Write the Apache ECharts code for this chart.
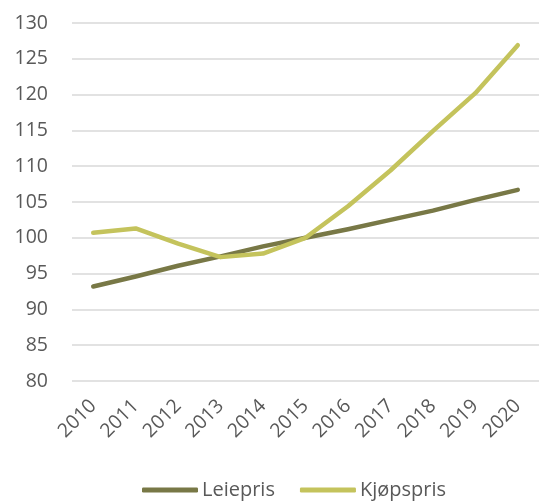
<!DOCTYPE html>
<html>
<head>
<meta charset="utf-8">
<script src="https://cdn.jsdelivr.net/npm/echarts@6/dist/echarts.min.js"></script>
<style>
  html, body { margin: 0; padding: 0; background: #fff; }
  #chart { width: 539px; height: 502px; }
</style>
</head>
<body>
<div id="chart"></div>
<script>
// årstall og indekser lest av figuren
const years = ['2010', '2011', '2012', '2013', '2014', '2015', '2016', '2017', '2018', '2019', '2020'];
const leiepris = [93.2, 94.6, 96.1, 97.4, 98.8, 100.0, 101.2, 102.5, 103.8, 105.3, 106.7];
const kjopspris = [100.7, 101.3, 99.2, 97.3, 97.8, 100.0, 104.4, 109.4, 114.9, 120.2, 126.9];

const fontFamily = '"Open Sans", sans-serif';
const textColor = '#595959';

const chart = echarts.init(document.getElementById('chart'));

chart.setOption({
  animation: false,
  backgroundColor: '#ffffff',
  grid: {
    left: 72,
    top: 23,
    bottom: 121,
    width: 476,
  },
  xAxis: {
    type: 'category',
    data: years,
    boundaryGap: true,
    axisLine: { show: false },
    axisTick: { show: false },
    axisLabel: {
      rotate: 45,
      margin: 22,
      color: textColor,
      fontFamily: fontFamily,
      fontSize: 19.5,
    },
  },
  yAxis: {
    type: 'value',
    min: 80,
    max: 130,
    interval: 5,
    axisLine: { show: false },
    axisTick: { show: false },
    axisLabel: {
      margin: 24,
      color: textColor,
      fontFamily: fontFamily,
      fontSize: 19.5,
    },
    splitLine: { lineStyle: { color: '#d9d9d9', width: 1.5 } },
  },
  legend: {
    top: 475,
    left: 137,
    itemWidth: 56,
    itemHeight: 5,
    itemGap: 25,
    icon: 'roundRect',
    textStyle: { color: textColor, fontFamily: fontFamily, fontSize: 20, padding: [0, 0, 0, -1] },
    data: ['Leiepris', 'Kjøpspris'],
  },
  series: [
    {
      name: 'Leiepris',
      type: 'line',
      data: leiepris,
      symbol: 'none',
      lineStyle: { color: '#787846', width: 4.5, cap: 'round', join: 'round' },
      itemStyle: { color: '#787846' },
    },
    {
      name: 'Kjøpspris',
      type: 'line',
      data: kjopspris,
      symbol: 'none',
      lineStyle: { color: '#c4c35c', width: 4.5, cap: 'round', join: 'round' },
      itemStyle: { color: '#c4c35c' },
    },
  ],
});
</script>
</body>
</html>
